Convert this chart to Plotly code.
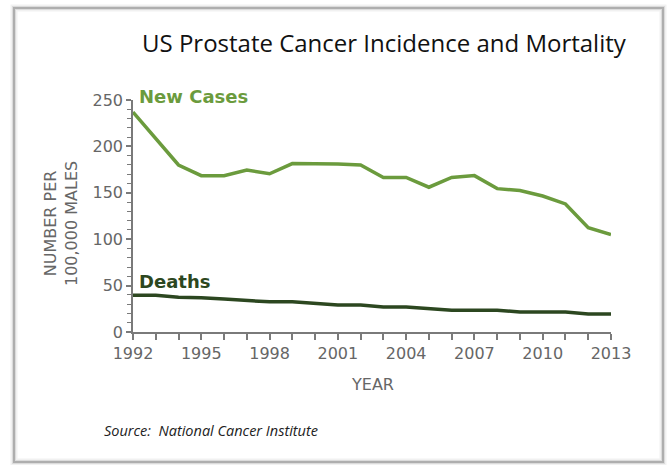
import plotly.graph_objects as go

years = list(range(1992, 2014))
new_cases = [237, 209, 180, 168.5, 168.5, 174.5, 170.5, 181.5, 181.5, 181, 180,
             166.5, 166.5, 156, 166.5, 168.5, 154.5, 152.5, 146.5, 138, 112.5, 105]
deaths = [39.5, 39.5, 37.5, 37, 35.5, 34, 32.5, 32.5, 30.5, 29, 29,
          27, 27, 25, 23.5, 23.5, 23.5, 21.5, 21.5, 21.5, 19.5, 19.5]
x_ticks = list(range(1992, 2014, 3))
y_ticks = [0, 50, 100, 150, 200, 250]

W, H = 672, 465
L, R, T, B = 133, 61, 100, 133
PW, PH = W - L - R, H - T - B


def px(x):
    return (x - L) / PW


def py(y):
    return (H - B - y) / PH


GREEN = "#6b9b3d"
DARK = "#2c4720"
GRAY = "#666666"
AXIS = "#7a7a7a"

fig = go.Figure()
fig.add_trace(go.Scatter(x=years, y=new_cases, mode="lines",
                         line=dict(color=GREEN, width=3.5), hoverinfo="skip"))
fig.add_trace(go.Scatter(x=years, y=deaths, mode="lines",
                         line=dict(color=DARK, width=3.5), hoverinfo="skip"))

shapes = []
# soft frame around the chart card
for op, w in [(0.10, 7), (0.18, 4), (0.45, 2)]:
    shapes.append(dict(type="rect", xref="paper", yref="paper",
                       x0=px(14), x1=px(663), y0=py(462), y1=py(8),
                       line=dict(color=f"rgba(120,120,120,{op})", width=w),
                       fillcolor="rgba(0,0,0,0)", layer="below"))

annotations = [
    dict(text="US Prostate Cancer Incidence and Mortality", xref="paper", yref="paper",
         x=px(384), y=py(42), xanchor="center", yanchor="middle", showarrow=False,
         font=dict(family="Open Sans", size=24, color="#111111")),
    dict(text="<b>New Cases</b>", xref="paper", yref="paper",
         x=px(137), y=py(97), xanchor="left", yanchor="middle", showarrow=False,
         font=dict(family="DejaVu Sans", size=18, color=GREEN)),
    dict(text="<b>Deaths</b>", xref="paper", yref="paper",
         x=px(137), y=py(281), xanchor="left", yanchor="middle", showarrow=False,
         font=dict(family="DejaVu Sans", size=18, color=DARK)),
    dict(text="<i>Source:  National Cancer Institute</i>", xref="paper", yref="paper",
         x=px(102), y=py(430), xanchor="left", yanchor="middle", showarrow=False,
         font=dict(family="Open Sans", size=14.5, color="#222222")),
    dict(text="NUMBER PER<br>100,000 MALES", xref="paper", yref="paper",
         x=px(61), y=py(224), xanchor="center", yanchor="middle", showarrow=False,
         textangle=-90, font=dict(family="DejaVu Sans", size=16, color=GRAY)),
    dict(text="YEAR", xref="paper", yref="paper",
         x=px(372), y=py(384), xanchor="center", yanchor="middle", showarrow=False,
         font=dict(family="DejaVu Sans", size=16, color=GRAY)),
]

fig.update_layout(
    width=W, height=H,
    margin=dict(l=L, r=R, t=T, b=B),
    paper_bgcolor="white", plot_bgcolor="white",
    showlegend=False,
    shapes=shapes, annotations=annotations,
    xaxis=dict(range=[1992, 2013], tickvals=x_ticks, showgrid=False, zeroline=False,
               showline=True, linecolor=AXIS, linewidth=1.5,
               ticks="outside", ticklen=6, tickcolor=AXIS, tickwidth=1.5,
               minor=dict(dtick=1, tick0=1992, ticks="outside", ticklen=6,
                          tickcolor=AXIS, tickwidth=1.5, showgrid=False),
               tickfont=dict(family="DejaVu Sans", size=16, color=GRAY)),
    yaxis=dict(range=[0, 250], tickvals=y_ticks, showgrid=False, zeroline=False,
               showline=True, linecolor=AXIS, linewidth=1.5,
               ticks="outside", ticklen=5, tickcolor=AXIS, tickwidth=1.5,
               minor=dict(dtick=10, tick0=0, ticks="outside", ticklen=4,
                          tickcolor=AXIS, tickwidth=1.2, showgrid=False),
               tickfont=dict(family="DejaVu Sans", size=16, color=GRAY)),
)

fig.write_html("out.html")
